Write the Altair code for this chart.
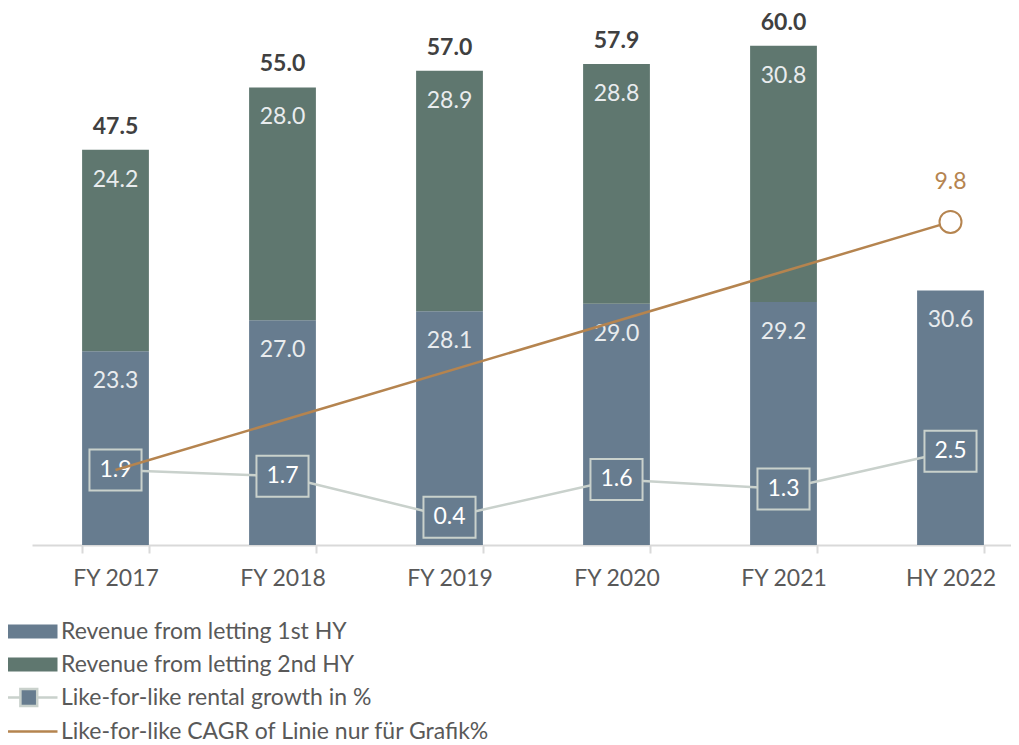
import altair as alt
import pandas as pd

# ---- data ----
categories = ["FY 2017", "FY 2018", "FY 2019", "FY 2020", "FY 2021", "HY 2022"]
rev_1st_hy = [23.3, 27.0, 28.1, 29.0, 29.2, 30.6]
rev_2nd_hy = [24.2, 28.0, 28.9, 28.8, 30.8, None]
rev_total = [47.5, 55.0, 57.0, 57.9, 60.0, None]
lfl_growth = [1.9, 1.7, 0.4, 1.6, 1.3, 2.5]
cagr_categories = ["FY 2017", "HY 2022"]
cagr_values = [1.9, 9.8]
series_names = [
    "Revenue from letting 1st HY",
    "Revenue from letting 2nd HY",
    "Like-for-like rental growth in %",
    "Like-for-like CAGR of Linie nur für Grafik%",
]

# ---- styles ----
C_FIRST = "#677c8f"
C_SECOND = "#5f776f"
C_GROWTH = "#c9d1cc"
C_CAGR = "#b5844f"
C_TEXT = "#595959"
FONT = "Lato"
FS = 23

df = pd.DataFrame({
    "cat": categories,
    "first": rev_1st_hy,
    "second": rev_2nd_hy,
    "total": rev_total,
    "growth": lfl_growth,
})
cagr_df = pd.DataFrame({"cat": cagr_categories, "growth": cagr_values})
legend_df = pd.DataFrame({"series": series_names})

X = alt.X(
    "cat:N",
    sort=categories,
    title=None,
    scale=alt.Scale(domain=categories, range=[0, 1002], paddingInner=0.6, paddingOuter=0.3),
    axis=alt.Axis(
        title=None, labelAngle=0, labelFont=FONT, labelFontSize=FS, labelColor=C_TEXT,
        labelPadding=14, domainColor="#d9d9d9", domainWidth=2, tickColor="#d9d9d9",
        tickWidth=2, tickSize=8, tickBand="extent", grid=False,
    ),
)

prim_scale = alt.Scale(domain=[0, 63.82], nice=False, zero=True)
sec_scale = alt.Scale(domain=[-0.487, 16.42], nice=False, zero=False)

base = alt.Chart(df)

bars1 = base.mark_bar(color=C_FIRST).encode(
    x=X, y=alt.Y("first:Q", scale=prim_scale, axis=None), y2=alt.datum(0)
)
bars2 = base.transform_filter("isValid(datum.second)").transform_calculate(
    top="datum.first + datum.second"
).mark_bar(color=C_SECOND).encode(
    x=X, y=alt.Y("top:Q", scale=prim_scale, axis=None), y2="first:Q"
)
lab1 = base.mark_text(font=FONT, fontSize=FS, color="#e9ecee", baseline="middle", dy=30).encode(
    x=X, y=alt.Y("first:Q", scale=prim_scale, axis=None), text=alt.Text("first:Q", format=".1f")
)
lab2 = base.transform_filter("isValid(datum.second)").transform_calculate(
    top="datum.first + datum.second"
).mark_text(font=FONT, fontSize=FS, color="#e9ecee", baseline="middle", dy=30).encode(
    x=X, y=alt.Y("top:Q", scale=prim_scale, axis=None), text=alt.Text("second:Q", format=".1f")
)
labtot = base.transform_filter("isValid(datum.total)").transform_calculate(
    top="datum.first + datum.second"
).mark_text(font=FONT, fontSize=FS, fontWeight="bold", color="#404040", baseline="middle", dy=-23).encode(
    x=X, y=alt.Y("top:Q", scale=prim_scale, axis=None), text=alt.Text("total:Q", format=".1f")
)

gline = base.mark_line(color=C_GROWTH, strokeWidth=2.5).encode(
    x=X, y=alt.Y("growth:Q", scale=sec_scale, axis=None)
)
gbox = base.mark_point(
    shape="M-1.27,-1L1.27,-1L1.27,1L-1.27,1Z", size=1681, filled=True,
    fill=C_FIRST, stroke=C_GROWTH, strokeWidth=2, opacity=1, fillOpacity=1,
).encode(x=X, y=alt.Y("growth:Q", scale=sec_scale, axis=None))
gtext = base.mark_text(font=FONT, fontSize=FS, color="white", baseline="middle").encode(
    x=X, y=alt.Y("growth:Q", scale=sec_scale, axis=None), text=alt.Text("growth:Q", format=".1f")
)

cbase = alt.Chart(cagr_df)
cline = cbase.mark_line(color=C_CAGR, strokeWidth=2.5).encode(
    x=X, y=alt.Y("growth:Q", scale=sec_scale, axis=None)
)
cend = cbase.transform_filter(alt.datum.cat == "HY 2022")
ccircle = cend.mark_point(
    shape="circle", size=484, filled=True, fill="white", stroke=C_CAGR, strokeWidth=2, opacity=1
).encode(x=X, y=alt.Y("growth:Q", scale=sec_scale, axis=None))
clabel = cend.mark_text(font=FONT, fontSize=FS, color=C_CAGR, baseline="middle", dy=-40).encode(
    x=X, y=alt.Y("growth:Q", scale=sec_scale, axis=None), text=alt.Text("growth:Q", format=".1f")
)

leg = alt.Legend(
    title=None, orient="none", legendX=-32, legendY=602, direction="vertical",
    symbolSize=784, symbolStrokeWidth=2.5, symbolOpacity=1,
    labelFont=FONT, labelFontSize=FS, labelColor=C_TEXT, labelOffset=30,
    rowPadding=5, padding=0, labelLimit=700,
)
shapes = [
    "M-1,-0.5L3,-0.5L3,0.5L-1,0.5Z",
    "M-1,-0.5L3,-0.5L3,0.5L-1,0.5Z",
    "M-1,0L0.35,0M1.55,0L3,0M0.35,-0.6L1.55,-0.6L1.55,0.6L0.35,0.6Z",
    "M-1,0L3,0",
]
legend_layer = alt.Chart(legend_df).mark_point(opacity=0).encode(
    fill=alt.Fill("series:N", sort=series_names,
                  scale=alt.Scale(domain=series_names, range=[C_FIRST, C_SECOND, C_FIRST, "transparent"]),
                  legend=leg),
    stroke=alt.Stroke("series:N", sort=series_names,
                      scale=alt.Scale(domain=series_names, range=["transparent", "transparent", C_GROWTH, C_CAGR]),
                      legend=leg),
    shape=alt.Shape("series:N", sort=series_names,
                    scale=alt.Scale(domain=series_names, range=shapes),
                    legend=leg),
)

chart = alt.layer(
    bars1, bars2, lab1, lab2, labtot, gline, gbox, gtext, cline, ccircle, clabel, legend_layer
).resolve_scale(y="independent").properties(
    width=979, height=531,
    padding={"left": 24, "top": 6, "right": 0, "bottom": 206},
    autosize=alt.AutoSizeParams(type="none"),
    background="white",
).configure_view(stroke=None)

chart.save("out.html", embed_options={"renderer": "svg", "actions": False})
